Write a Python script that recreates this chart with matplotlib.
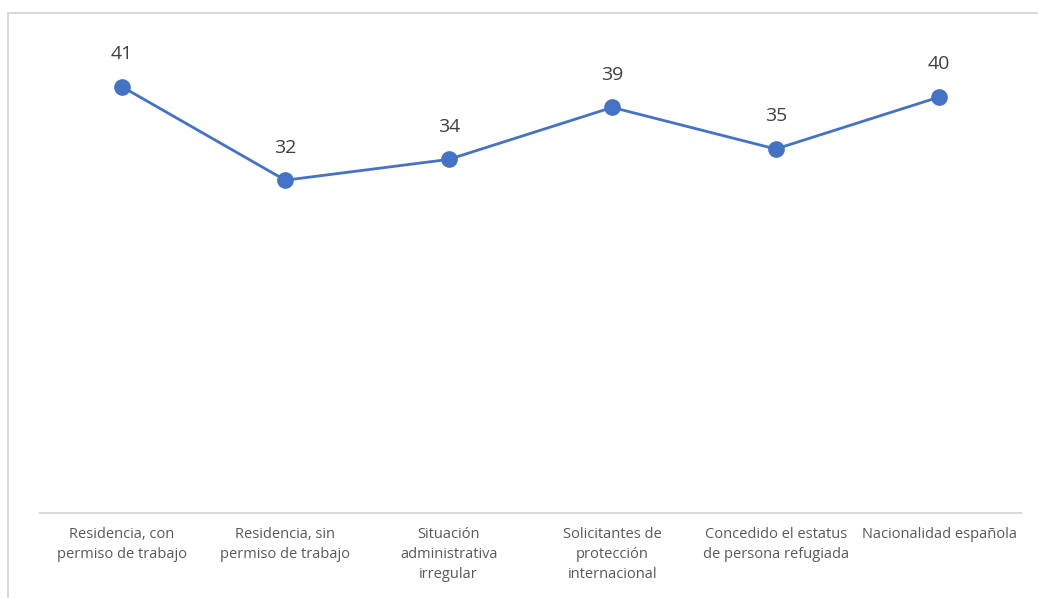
import matplotlib.pyplot as plt
from matplotlib.patches import Rectangle

categorias = ['Residencia, con\npermiso de trabajo',
              'Residencia, sin\npermiso de trabajo',
              'Situación\nadministrativa\nirregular',
              'Solicitantes de\nprotección\ninternacional',
              'Concedido el estatus\nde persona refugiada',
              'Nacionalidad española']
valores = [41, 32, 34, 39, 35, 40]

plt.rcParams['font.family'] = ['Open Sans', 'DejaVu Sans']

fig = plt.figure(figsize=(10.38, 5.98), dpi=100)
ax = fig.add_axes([40/1038, 85/598, 981/1038, 468/598])

x = range(len(valores))
ax.plot(x, valores, color='#4472C4', lw=2, marker='o', ms=11, zorder=3)

for xi, v in zip(x, valores):
    ax.annotate(str(v), (xi, v), xytext=(0, 23.5), textcoords='offset points',
                ha='center', va='center', fontsize=14, color='#404040')

ax.set_xlim(-0.5, len(valores) - 0.5)
ax.set_ylim(0, 45)
ax.set_yticks([])
ax.set_xticks(list(x))
ax.set_xticklabels(categorias, fontsize=10.5, color='#595959', linespacing=1.45)
ax.tick_params(axis='x', length=0, pad=10)

for s in ['top', 'right', 'left']:
    ax.spines[s].set_visible(False)
ax.spines['bottom'].set_color('#d9d9d9')
ax.spines['bottom'].set_linewidth(1.5)

# chart area frame
fig.patches.append(Rectangle((8/1038, -0.1), 1.1, 1 - 13/598 + 0.1,
                             transform=fig.transFigure, fill=False,
                             edgecolor='#d9d9d9', lw=1.5))

fig.savefig('out.png', dpi=100)
